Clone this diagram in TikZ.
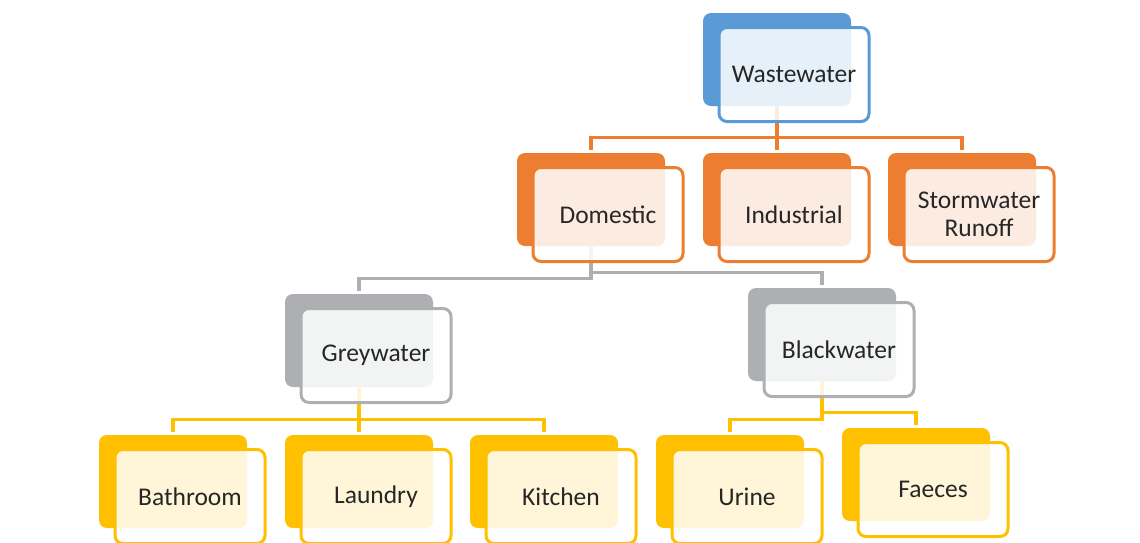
\documentclass[tikz,border=0pt]{standalone}
\usepackage{fontspec}
\setmainfont{Carlito}
\usetikzlibrary{positioning,calc}

\definecolor{wwblue}{HTML}{5B9BD5}
\definecolor{wworange}{HTML}{ED7D31}
\definecolor{wwgrey}{HTML}{AEAFB3}
\definecolor{wwyellow}{HTML}{FFC000}
\definecolor{wwtext}{HTML}{262626}

\tikzset{
  backbox/.style={fill=#1, rounded corners=8pt, minimum width=148pt, minimum height=93pt, inner sep=0pt},
  frontbox/.style={draw=#1, fill=white, fill opacity=0.85, text opacity=1, line width=3pt,
    rounded corners=8pt, minimum width=150pt, minimum height=94pt, inner sep=0pt,
    text=wwtext, font=\fontsize{25.5}{28}\selectfont, align=center},
  link/.style={draw=#1, line width=3.2pt, shorten >=3pt}
}

\begin{document}
\begin{tikzpicture}[x=1pt, y=-1pt]
  \useasboundingbox (0,0) rectangle (1140,542);

  %back boxes
  \node[backbox=wwblue] (ww) at (777,59.5) {};
  \node[backbox=wworange] (dom) at (591,199.5) {};
  \node[backbox=wworange] (ind) at (777,199.5) {};
  \node[backbox=wworange] (storm) at (962,199.5) {};
  \node[backbox=wwgrey] (grey) at (359,340.5) {};
  \node[backbox=wwgrey] (black) at (822,334.5) {};
  \node[backbox=wwyellow] (bath) at (173,481.5) {};
  \node[backbox=wwyellow] (laundry) at (359,481.5) {};
  \node[backbox=wwyellow] (kitchen) at (544,481.5) {};
  \node[backbox=wwyellow] (urine) at (730,481.5) {};
  \node[backbox=wwyellow] (faeces) at (916,474.5) {};

  %connectors, behind the front boxes
  \draw[link=wworange] (ww.south) |- ([yshift=15pt]dom.north) -- (dom.north);
  \draw[link=wworange] (ww.south) |- ([yshift=15pt]ind.north) -- (ind.north);
  \draw[link=wworange] (ww.south) |- ([yshift=15pt]storm.north) -- (storm.north);
  \draw[link=wwgrey] (dom.south) |- ([yshift=15pt]grey.north) -- (grey.north);
  \draw[link=wwgrey] (dom.south) |- ([yshift=15pt]black.north) -- (black.north);
  \draw[link=wwyellow] (grey.south) |- ([yshift=15pt]bath.north) -- (bath.north);
  \draw[link=wwyellow] (grey.south) |- ([yshift=15pt]laundry.north) -- (laundry.north);
  \draw[link=wwyellow] (grey.south) |- ([yshift=15pt]kitchen.north) -- (kitchen.north);
  \draw[link=wwyellow] (black.south) |- ([yshift=15pt]urine.north) -- (urine.north);
  \draw[link=wwyellow] (black.south) |- ([yshift=15pt]faeces.north) -- (faeces.north);

  %front boxes with the labels
  \node[frontbox=wwblue] (ww-f) at ([shift={(17,15)}]ww) {Wastewater};
  \node[frontbox=wworange] (dom-f) at ([shift={(17,15)}]dom) {Domestic};
  \node[frontbox=wworange] (ind-f) at ([shift={(17,15)}]ind) {Industrial};
  \node[frontbox=wworange] (storm-f) at ([shift={(17,15)}]storm) {Stormwater\\Runoff};
  \node[frontbox=wwgrey] (grey-f) at ([shift={(17,15)}]grey) {Greywater};
  \node[frontbox=wwgrey] (black-f) at ([shift={(17,15)}]black) {Blackwater};
  \node[frontbox=wwyellow] (bath-f) at ([shift={(17,15)}]bath) {Bathroom};
  \node[frontbox=wwyellow] (laundry-f) at ([shift={(17,15)}]laundry) {Laundry};
  \node[frontbox=wwyellow] (kitchen-f) at ([shift={(17,15)}]kitchen) {Kitchen};
  \node[frontbox=wwyellow] (urine-f) at ([shift={(17,15)}]urine) {Urine};
  \node[frontbox=wwyellow] (faeces-f) at ([shift={(17,15)}]faeces) {Faeces};
\end{tikzpicture}
\end{document}
